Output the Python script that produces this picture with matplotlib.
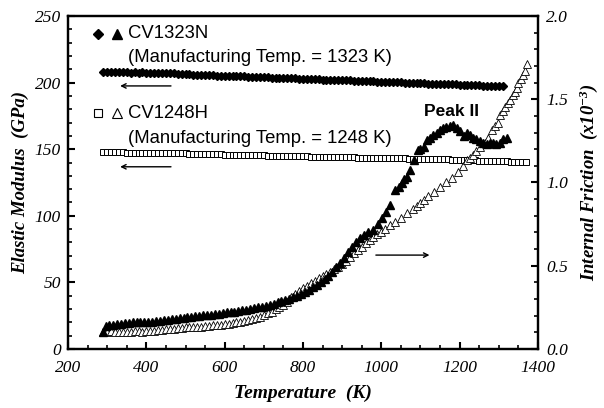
import numpy as np
import matplotlib as mpl
mpl.use('Agg')
import matplotlib.pyplot as plt

mpl.rcParams['font.family'] = 'Liberation Serif'
mpl.rcParams['mathtext.fontset'] = 'custom'
mpl.rcParams['mathtext.rm'] = 'Liberation Serif:bold:italic'
mpl.rcParams['mathtext.it'] = 'Liberation Serif:bold:italic'

# elastic modulus, CV1323N (diamonds)
temp_mod_n = [290, 300, 310, 320, 330, 340, 350, 360, 370, 380, 390, 400, 410,
              420, 430, 440, 450, 460, 470, 480, 490, 500, 510,
              520, 530, 540, 550, 560, 570, 580, 590, 600, 610, 620, 630, 640,
              650, 660, 670, 680, 690, 700, 710, 720, 730, 740, 750, 760, 770,
              780, 790, 800, 810, 820, 830, 840, 850, 860, 870, 880, 890, 900,
              910, 920, 930, 940, 950, 960, 970, 980, 990, 1000, 1010, 1020,
              1030, 1040, 1050, 1060, 1070, 1080, 1090, 1100, 1110, 1120, 1130,
              1140, 1150, 1160, 1170, 1180, 1190, 1200, 1210, 1220, 1230, 1240,
              1250, 1260, 1270, 1280, 1290, 1300, 1310]
mod_n = [207.6, 207.7, 207.6, 207.6, 207.7, 207.6, 207.6, 207.5, 207.6, 207.5,
         207.6, 207.5, 207.4, 207.5, 207.4, 207.3, 207.3, 207.2, 207.1,
         206.8, 206.5, 206.2, 206.1,
         206.0, 205.9, 205.8, 205.7, 205.6, 205.4, 205.3, 205.2, 205.1, 205.0,
         204.9, 204.8, 204.7, 204.6, 204.4, 204.3, 204.2, 204.1, 204.0, 203.9,
         203.8, 203.7, 203.6, 203.4, 203.3, 203.2, 203.1, 203.0, 202.9, 202.8,
         202.7, 202.6, 202.4, 202.3, 202.2, 202.1, 202.0, 201.9, 201.8, 201.7,
         201.6, 201.4, 201.3, 201.2, 201.1, 201.0, 200.9, 200.8, 200.7, 200.6,
         200.4, 200.3, 200.2, 200.1, 200.0, 199.9, 199.8, 199.7, 199.6, 199.4,
         199.3, 199.2, 199.1, 199.0, 198.9, 198.8, 198.7, 198.6, 198.4, 198.3,
         198.2, 198.1, 198.0, 197.9, 197.8, 197.7, 197.6, 197.5, 197.4, 197.3]

# elastic modulus, CV1248H (squares)
temp_mod_h = [290, 300, 310, 320, 330, 340, 350, 360, 370, 380, 390, 400, 410,
              420, 430, 440, 450, 460, 470, 480, 490, 500, 510, 520, 530, 540,
              550, 560, 570, 580, 590, 600, 610, 620, 630, 640, 650, 660, 670,
              680, 690, 700, 710, 720, 730, 740, 750, 760, 770, 780, 790, 800,
              810, 820, 830, 840, 850, 860, 870, 880, 890, 900, 910, 920, 930,
              940, 950, 960, 970, 980, 990, 1000, 1010, 1020, 1030, 1040, 1050,
              1060, 1070, 1080, 1090, 1100, 1110, 1120, 1130, 1140, 1150, 1160,
              1170, 1180, 1190, 1200, 1210, 1220, 1230, 1240, 1250, 1260, 1270,
              1280, 1290, 1300, 1310, 1320, 1330, 1340, 1350, 1360, 1370]
mod_h = [147.7, 147.7, 147.7, 147.6, 147.6, 147.6, 147.5, 147.5, 147.5, 147.4,
         147.4, 147.4, 147.3, 147.3, 147.2, 147.2, 147.1, 147.1, 147.1, 147.0,
         146.9, 146.8, 146.7, 146.7, 146.6, 146.5, 146.4, 146.3, 146.3, 146.2,
         146.1, 146.0, 146.0, 145.9, 145.8, 145.7, 145.6, 145.5, 145.5, 145.4,
         145.3, 145.3, 145.2, 145.1, 145.1, 145.0, 144.9, 144.9, 144.8, 144.7,
         144.7, 144.6, 144.6, 144.5, 144.5, 144.4, 144.3, 144.3, 144.2, 144.1,
         144.1, 144.0, 143.9, 143.9, 143.8, 143.7, 143.7, 143.6, 143.6, 143.5,
         143.5, 143.4, 143.4, 143.3, 143.3, 143.2, 143.2, 143.1, 143.0, 143.0,
         142.9, 142.8, 142.8, 142.7, 142.6, 142.5, 142.5, 142.4, 142.3, 142.2,
         142.1, 142.0, 141.9, 141.8, 141.7, 141.6, 141.5, 141.4, 141.3, 141.2,
         141.1, 141.0, 140.9, 140.8, 140.7, 140.5, 140.4, 140.3, 140.2]

# internal friction, CV1323N (filled triangles)
temp_if_n = [290, 297, 305, 315, 325, 335, 345, 355, 365, 375, 385, 395, 405,
             415, 425, 435, 445, 455, 465, 475, 485, 495, 505, 515, 525, 535,
             545, 555, 565, 575, 585, 595, 605, 615, 625, 635, 645, 655, 665,
             675, 685, 695, 705, 715, 725, 735, 745, 755, 765, 775, 785, 795,
             805, 815, 825, 835, 845, 855, 865, 875, 885, 895, 905, 915, 925,
             935, 945, 955, 965, 980, 992, 1002, 1012, 1022, 1035, 1044, 1052,
             1059, 1065, 1073, 1083, 1094, 1100, 1108, 1116, 1125, 1133, 1142,
             1150, 1158, 1166, 1175, 1184, 1193, 1202, 1210, 1218, 1226, 1234,
             1243, 1252, 1260, 1269, 1277, 1285, 1294, 1303, 1311, 1320]
if_n = [0.10, 0.14, 0.145, 0.145, 0.15, 0.15, 0.155, 0.155, 0.16, 0.16, 0.16,
        0.165, 0.165, 0.165, 0.17, 0.17, 0.175, 0.175, 0.178, 0.18, 0.185,
        0.188, 0.19, 0.195, 0.197, 0.20, 0.205, 0.205, 0.207, 0.21, 0.212,
        0.215, 0.22, 0.222, 0.225, 0.23, 0.235, 0.237, 0.24, 0.245, 0.25,
        0.255, 0.26, 0.265, 0.272, 0.28, 0.287, 0.295, 0.302, 0.31, 0.32,
        0.33, 0.34, 0.355, 0.37, 0.385, 0.40, 0.42, 0.44, 0.465, 0.49, 0.515,
        0.545, 0.58, 0.61, 0.64, 0.665, 0.685, 0.70, 0.715, 0.75, 0.785, 0.82,
        0.865, 0.955, 0.97, 0.995, 1.02, 1.035, 1.075, 1.135, 1.195, 1.20,
        1.215, 1.255, 1.27, 1.285, 1.30, 1.315, 1.325, 1.335, 1.34, 1.345,
        1.33, 1.31, 1.28, 1.295, 1.285, 1.27, 1.26, 1.25, 1.24, 1.23, 1.24,
        1.235, 1.23, 1.24, 1.26, 1.27]

# internal friction, CV1248H (open triangles)
temp_if_h = [290, 300, 310, 320, 330, 340, 350, 360, 370, 380, 390, 400, 410,
             420, 430, 440, 450, 460, 470, 480, 490, 500, 510, 520, 530, 540,
             550, 560, 570, 580, 590, 600, 610, 620, 630, 640, 650, 660, 670,
             680, 690, 700, 710, 720, 730, 740, 750, 760, 770, 780, 790, 800,
             810, 820, 830, 840, 850, 860, 870, 880, 890, 900, 910, 920, 930,
             940, 950, 960, 970, 980, 990, 1000, 1010, 1022, 1035, 1050, 1065,
             1080, 1090, 1099, 1110, 1120, 1135, 1150, 1165, 1180, 1195, 1208,
             1218, 1226, 1234, 1243, 1252, 1265, 1273, 1282, 1290, 1297, 1303,
             1310, 1316, 1323, 1329, 1336, 1341, 1346, 1350, 1356, 1361, 1366,
             1372]
if_h = [0.10, 0.105, 0.11, 0.105, 0.10, 0.10, 0.105, 0.105, 0.11, 0.11, 0.105,
        0.11, 0.11, 0.11, 0.115, 0.115, 0.12, 0.12, 0.12, 0.125, 0.127, 0.13,
        0.13, 0.133, 0.135, 0.135, 0.138, 0.14, 0.143, 0.145, 0.147, 0.15,
        0.153, 0.155, 0.16, 0.165, 0.17, 0.173, 0.18, 0.185, 0.195, 0.205,
        0.215, 0.225, 0.24, 0.25, 0.265, 0.285, 0.31, 0.33, 0.35, 0.365, 0.38,
        0.395, 0.41, 0.425, 0.44, 0.45, 0.465, 0.48, 0.495, 0.51, 0.53, 0.55,
        0.575, 0.595, 0.615, 0.635, 0.655, 0.675, 0.69, 0.705, 0.72, 0.745,
        0.765, 0.785, 0.815, 0.84, 0.86, 0.875, 0.895, 0.92, 0.945, 0.97, 1.0,
        1.03, 1.065, 1.10, 1.135, 1.15, 1.165, 1.19, 1.215, 1.24, 1.265,
        1.315, 1.34, 1.36, 1.405, 1.43, 1.455, 1.475, 1.495, 1.525, 1.545,
        1.57, 1.595, 1.62, 1.645, 1.67, 1.71]

fig = plt.figure(figsize=(6.04, 4.08), dpi=100)
ax = fig.add_axes([0.1126, 0.1446, 0.7781, 0.8162])
ax2 = ax.twinx()

ax.plot(temp_mod_n, mod_n, ls='none', marker='D', ms=4.2, color='black', zorder=3)
ax.plot(temp_mod_h, mod_h, ls='none', marker='s', ms=4.5, mfc='white',
        mec='black', mew=0.7, zorder=3)
ax2.plot(temp_if_h, if_h, ls='none', marker='^', ms=5.5, mfc='white',
         mec='black', mew=0.6, zorder=3)
ax2.plot(temp_if_n, if_n, ls='none', marker='^', ms=5.5, color='black', zorder=4)

ax.set_xlim(200, 1400)
ax.set_ylim(0, 250)
ax2.set_ylim(0, 2.0)
ax.set_xticks(np.arange(200, 1401, 200))
ax.set_xticks(np.arange(200, 1401, 50), minor=True)
ax.set_yticks(np.arange(0, 251, 50))
ax.set_yticks(np.arange(0, 251, 10), minor=True)
ax2.set_yticks([0.0, 0.5, 1.0, 1.5, 2.0])
ax2.set_yticks(np.arange(0, 2.01, 0.1), minor=True)
ax2.set_yticklabels(['0.0', '0.5', '1.0', '1.5', '2.0'])

for a in (ax, ax2):
    for s in a.spines.values():
        s.set_linewidth(1.6)
    a.tick_params(which='major', direction='in', length=5, width=1.5,
                  labelsize=12.5)
    a.tick_params(which='minor', direction='in', length=3, width=1.2)
    for lbl in a.get_xticklabels() + a.get_yticklabels():
        lbl.set_fontstyle('italic')
ax.tick_params(axis='x', pad=8)
ax.tick_params(axis='y', pad=5)
ax2.tick_params(axis='y', pad=6)

ax.set_xlabel('Temperature  (K)', fontsize=14, fontweight='bold',
              fontstyle='italic', labelpad=6)
ax.set_ylabel('Elastic Modulus  (GPa)', fontsize=13.5, fontweight='bold',
              fontstyle='italic', labelpad=4)
ax2.set_ylabel(r'Internal Friction  (x10$^{-3}$)', fontsize=13.5,
               fontweight='bold', fontstyle='italic', labelpad=7)

# legend-like labels
sans = 'Liberation Sans'
ax.plot([277], [236.5], marker='D', ms=4.8, color='black')
ax.plot([325], [236.5], marker='^', ms=7, color='black')
ax.text(353, 236.5, 'CV1323N', family=sans, fontsize=13.3, va='center')
ax.text(353, 219, '(Manufacturing Temp. = 1323 K)', family=sans,
        fontsize=13.3, va='center')
ax.plot([277], [177], marker='s', ms=5.5, mfc='white', mec='black', mew=0.8)
ax.plot([325], [177], marker='^', ms=6.5, mfc='white', mec='black', mew=0.8)
ax.text(353, 177, 'CV1248H', family=sans, fontsize=13.3, va='center')
ax.text(353, 158.4, '(Manufacturing Temp. = 1248 K)', family=sans,
        fontsize=13.3, va='center')
ax.text(1109, 178, 'Peak II', family=sans, fontsize=12.5, fontweight='bold',
        va='center')

arrow = dict(arrowstyle='->', lw=1, color='black', mutation_scale=8)
ax.annotate('', xy=(326, 197.5), xytext=(470, 197.5), arrowprops=arrow)
ax.annotate('', xy=(326, 136.8), xytext=(470, 136.8), arrowprops=arrow)
ax.annotate('', xy=(1130, 70.5), xytext=(979, 70.5), arrowprops=arrow)

fig.savefig('out.png', dpi=100)
